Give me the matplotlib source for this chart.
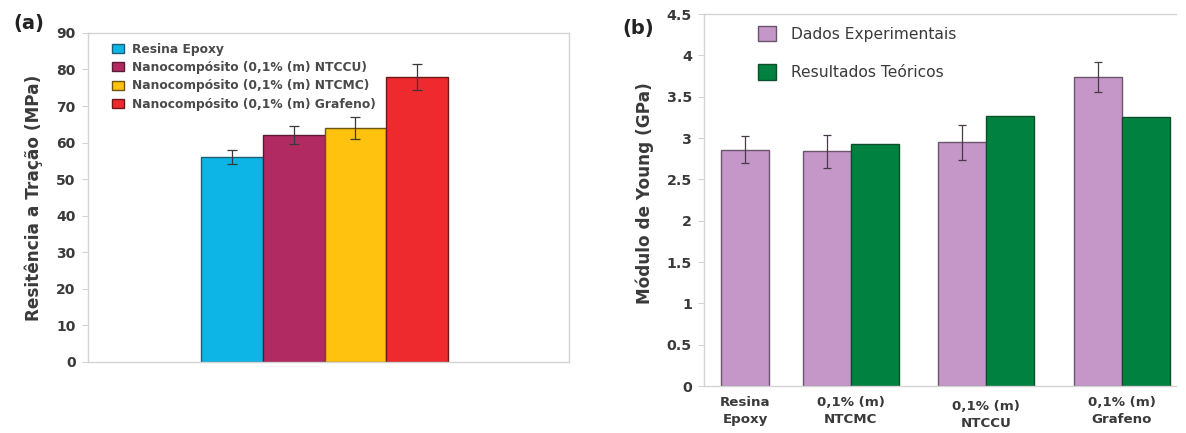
import numpy as np
import matplotlib
matplotlib.use("Agg")
import matplotlib.pyplot as plt
import matplotlib.transforms as mtransforms

plt.rcParams['font.family'] = ['DejaVu Sans']

# (a) tensile strength
series_a = ["Resina Epoxy",
            "Nanocompósito (0,1% (m) NTCCU)",
            "Nanocompósito (0,1% (m) NTCMC)",
            "Nanocompósito (0,1% (m) Grafeno)"]
tensao = [56, 62, 64, 78]
tensao_err = [1.9, 2.5, 2.9, 3.6]
cores_a = ['#0db4e6', '#b22a62', '#ffc20e', '#ee2a2e']
bordas_a = ['#1f5f75', '#5c1a36', '#6b5510', '#6e1a1a']

# (b) Young's modulus
grupos_b = ["Resina\nEpoxy", "0,1% (m)\nNTCMC", "0,1% (m)\nNTCCU", "0,1% (m)\nGrafeno"]
young_exp = [2.86, 2.84, 2.95, 3.74]
young_exp_err = [0.16, 0.2, 0.21, 0.185]
young_teo = [np.nan, 2.93, 3.27, 3.25]

texto = '#3a3a3a'
moldura = '#d4d4d4'

fig = plt.figure(figsize=(11.86, 4.33), dpi=100)
ax1 = fig.add_axes([0.0742, 0.164, 0.4056, 0.760])
ax2 = fig.add_axes([0.594, 0.1085, 0.3975, 0.859])

for ax in (ax1, ax2):
    for s in ax.spines.values():
        s.set_color(moldura)
        s.set_linewidth(1.0)
    ax.tick_params(axis='y', colors=moldura, labelcolor=texto, length=4, width=0.8)

# ---- (a)
w = 1.0
xa = (np.arange(4) - 1.5) * w
for i in range(4):
    ax1.bar(xa[i], tensao[i], w, color=cores_a[i], edgecolor=bordas_a[i],
            linewidth=1.0, label=series_a[i], zorder=2)
    ax1.errorbar(xa[i], tensao[i], yerr=tensao_err[i], fmt='none',
                 ecolor='#3a3a3a', elinewidth=0.9, capsize=3.5, capthick=0.9, zorder=3)
ax1.set_xlim(-3.83, 3.96)
ax1.set_ylim(0, 90)
ax1.set_yticks(np.arange(0, 91, 10))
ax1.set_xticks([])
ax1.tick_params(axis='y', labelsize=10, pad=5)
for lb in ax1.get_yticklabels():
    lb.set_fontweight('bold')
ax1.set_ylabel('Resitência a Tração (MPa)', fontsize=12.2, fontweight='bold', color=texto)
ax1.yaxis.set_label_coords(-0.094, 0.5)
leg1 = ax1.legend(loc='upper left', bbox_to_anchor=(0.04, 0.985), frameon=False,
                  fontsize=8.85, handlelength=1.0, handleheight=0.75,
                  labelspacing=0.43, handletextpad=0.6, borderaxespad=0)
for t in leg1.get_texts():
    t.set_fontweight('bold')
    t.set_color('#4a4a4a')

# ---- (b)
pos_b = np.array([0, 0.78, 1.78, 2.78])
wb = 0.355
x_exp = pos_b.copy()
x_exp[1:] = pos_b[1:] - wb / 2
x_teo = pos_b + wb / 2
ax2.bar(x_exp, young_exp, wb, color='#c497c8', edgecolor='#6a556c', linewidth=1.0,
        label='Dados Experimentais', zorder=2)
ax2.bar(x_teo[1:], young_teo[1:], wb, color='#00813f', edgecolor='#0d4f2a', linewidth=1.0,
        label='Resultados Teóricos', zorder=2)
ax2.errorbar(x_exp, young_exp, yerr=young_exp_err, fmt='none', ecolor='#4a3a48',
             elinewidth=0.9, capsize=3, capthick=0.9, zorder=3)
ax2.set_xlim(-0.30, 3.18)
ax2.set_ylim(0, 4.5)
ax2.set_yticks(np.arange(0, 4.51, 0.5))
ax2.set_yticklabels(['0', '0.5', '1', '1.5', '2', '2.5', '3', '3.5', '4', '4.5'])
ax2.tick_params(axis='y', labelsize=10.3, pad=5)
for lb in ax2.get_yticklabels():
    lb.set_fontweight('bold')
ax2.set_xticks(pos_b)
ax2.set_xticklabels(grupos_b, fontsize=9.6, fontweight='bold', color=texto, linespacing=1.45)
ax2.tick_params(axis='x', length=0, pad=7)
# NTCCU label sits a little lower
lab = ax2.get_xticklabels()[2]
lab.set_transform(lab.get_transform() + mtransforms.ScaledTranslation(0, -4 / 100, fig.dpi_scale_trans))
ax2.spines['right'].set_visible(False)
ax2.set_ylabel('Módulo de Young (GPa)', fontsize=12.2, fontweight='bold', color=texto)
ax2.yaxis.set_label_coords(-0.108, 0.52)
leg2 = ax2.legend(loc='upper left', bbox_to_anchor=(0.1, 0.985), frameon=False,
                  fontsize=11.2, handlelength=1.15, handleheight=1.15,
                  labelspacing=1.45, handletextpad=1.0, borderaxespad=0)
for t in leg2.get_texts():
    t.set_color(texto)

fig.text(0.024, 0.945, '(a)', fontsize=14, fontweight='bold', color='#222222',
         ha='center', va='center')
fig.text(0.538, 0.935, '(b)', fontsize=14, fontweight='bold', color='#222222',
         ha='center', va='center')

fig.savefig('out.png', dpi=100)
